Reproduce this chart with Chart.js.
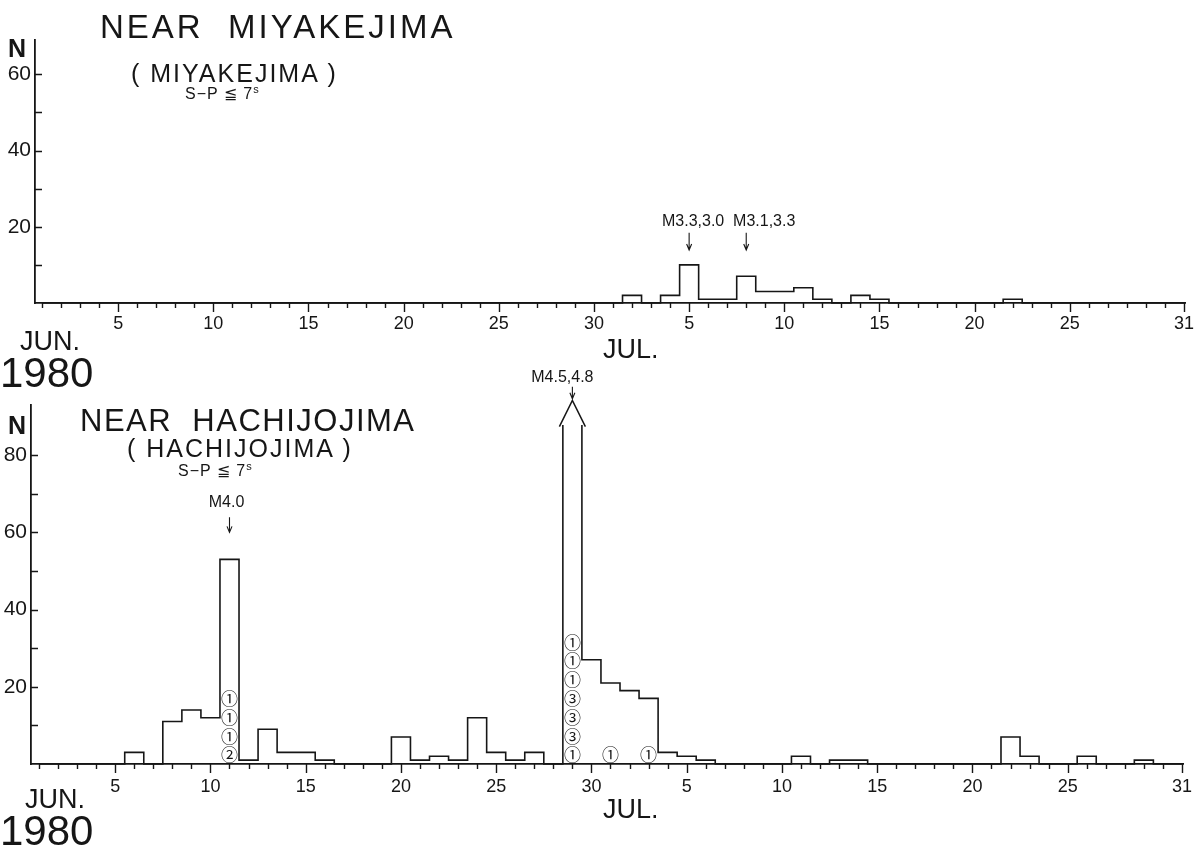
<!DOCTYPE html>
<html>
<head>
<meta charset="utf-8">
<title>Near Miyakejima / Near Hachijojima, June - July 1980</title>
<script src="https://cdn.jsdelivr.net/npm/chart.js@4.4.1/dist/chart.umd.min.js"></script>
<style>
  body { margin: 0; background: #fff; }
  #page { position: relative; width: 1204px; height: 850px; overflow: hidden; background: #fff;
          font-family: "Liberation Sans", Arial, Helvetica, sans-serif; color: #161616; }
  canvas { position: absolute; left: 0; }
  .txt { position: absolute; white-space: nowrap; line-height: 1; z-index: 2; }
  .title { font-size: 33px; letter-spacing: 3px; }
  .sub { font-size: 25px; letter-spacing: 2px; }
  .sp { font-size: 16px; letter-spacing: 1px; }
  .sp sup { font-size: 11px; vertical-align: 6px; }
  .n { font-size: 25px; font-weight: bold; }
  .mon { font-size: 27px; }
  .year { font-size: 42px; }
</style>
</head>
<body>
<div id="page">
  <canvas id="topChart" width="1204" height="425" style="top:0;width:1204px;height:425px"></canvas>
  <canvas id="bottomChart" width="1204" height="490" style="top:360px;width:1204px;height:490px"></canvas>

  <div class="txt n" style="left:8px;top:36px">N</div>
  <div class="txt title" style="left:100px;top:10px">NEAR&nbsp; MIYAKEJIMA</div>
  <div class="txt sub" style="left:131px;top:61px">( MIYAKEJIMA )</div>
  <div class="txt sp" style="left:185px;top:84px">S−P ≦ 7<sup>s</sup></div>
  <div class="txt mon" style="left:20px;top:328px">JUN.</div>
  <div class="txt year" style="left:0;top:352px">1980</div>
  <div class="txt mon" style="left:603px;top:336px">JUL.</div>

  <div class="txt n" style="left:8px;top:413px">N</div>
  <div class="txt title" style="left:80px;top:405px;font-size:31px;letter-spacing:1.5px">NEAR&nbsp; HACHIJOJIMA</div>
  <div class="txt sub" style="left:127px;top:436px">( HACHIJOJIMA )</div>
  <div class="txt sp" style="left:178px;top:461px">S−P ≦ 7<sup>s</sup></div>
  <div class="txt mon" style="left:25px;top:786px">JUN.</div>
  <div class="txt year" style="left:0;top:810px">1980</div>
  <div class="txt mon" style="left:603px;top:796px">JUL.</div>
</div>

<script>
var ink = '#161616';

// day 1 = Jun 1 ... day 30 = Jun 30, day 31 = Jul 1 ... day 61 = Jul 31
var days = [];
for (var d = 1; d <= 61; d++) days.push(d);
var majorDays = [5, 10, 15, 20, 25, 30, 35, 40, 45, 50, 55, 61];
var majorLabels = ['5', '10', '15', '20', '25', '30', '5', '10', '15', '20', '25', '31'];

// daily number of earthquakes, Miyakejima station
var miyakejima = [
  0, 0, 0, 0, 0, 0, 0, 0, 0, 0,      // Jun 1-10
  0, 0, 0, 0, 0, 0, 0, 0, 0, 0,      // Jun 11-20
  0, 0, 0, 0, 0, 0, 0, 0, 0, 0,      // Jun 21-30
  0, 2, 0, 2, 10, 1, 1, 7, 3, 3,     // Jul 1-10
  4, 1, 0, 2, 1, 0, 0, 0, 0, 0,      // Jul 11-20
  0, 1, 0, 0, 0, 0, 0, 0, 0, 0, 0    // Jul 21-31
];

// daily number of earthquakes, Hachijojima station (Jun 29 is off scale)
var hachijojima = [
  0, 0, 0, 0, 0, 3, 0, 11, 14, 12,   // Jun 1-10
  53, 1, 9, 3, 3, 1, 0, 0, 0, 7,     // Jun 11-20
  1, 2, 1, 12, 3, 1, 3, 0, 100, 27,  // Jun 21-30
  21, 19, 17, 3, 2, 1, 0, 0, 0, 0,   // Jul 1-10
  2, 0, 1, 1, 0, 0, 0, 0, 0, 0,      // Jul 11-20
  0, 7, 2, 0, 0, 2, 0, 0, 1, 0, 0    // Jul 21-31
];

var topYTicks = [20, 40, 60];
var topYMinor = [10, 20, 30, 40, 50, 60];
var bottomYTicks = [20, 40, 60, 80];
var bottomYMinor = [10, 20, 30, 40, 50, 60, 70, 80];

// tick marks: inward on the N axis, downward on the day axis
var axisMarks = {
  id: 'axisMarks',
  afterDraw: function(chart, args, opts) {
    var ctx = chart.ctx, xs = chart.scales.x, ys = chart.scales.y;
    ctx.save();
    ctx.strokeStyle = ink;
    ctx.lineWidth = 1.4;
    ctx.beginPath();
    days.forEach(function(d) {
      var px = Math.round(xs.getPixelForValue(d)) + 0.5;
      var len = majorDays.indexOf(d) >= 0 ? 9 : 5;
      ctx.moveTo(px, ys.bottom);
      ctx.lineTo(px, ys.bottom + len);
    });
    opts.yMinor.forEach(function(v) {
      var py = Math.round(ys.getPixelForValue(v)) + 0.5;
      ctx.moveTo(xs.left, py);
      ctx.lineTo(xs.left + 7, py);
    });
    ctx.stroke();
    ctx.restore();
  }
};

// magnitude notes, circled numbers and the off-scale arrow
var notes = {
  id: 'notes',
  afterDatasetsDraw: function(chart, args, opts) {
    var ctx = chart.ctx, xs = chart.scales.x, ys = chart.scales.y;
    var base = ys.getPixelForValue(0);
    ctx.save();
    ctx.fillStyle = ink;
    ctx.strokeStyle = ink;
    ctx.lineWidth = 1.1;
    ctx.textAlign = 'center';
    ctx.textBaseline = 'middle';

    ctx.font = '16px "Liberation Sans", Arial, sans-serif';
    (opts.quakes || []).forEach(function(q) {
      var x = xs.getPixelForValue(q.day);
      ctx.fillText(q.text, x + q.dx, ys.getPixelForValue(q.textAt));
      var y0 = ys.getPixelForValue(q.from), y1 = ys.getPixelForValue(q.to);
      ctx.beginPath();
      ctx.moveTo(x, y0);
      ctx.lineTo(x, y1);
      ctx.moveTo(x - 2.5, y1 - 6);
      ctx.lineTo(x, y1);
      ctx.lineTo(x + 2.5, y1 - 6);
      ctx.stroke();
    });

    ctx.font = '17px "Noto Sans CJK JP", "DejaVu Sans", sans-serif';
    (opts.circles || []).forEach(function(c) {
      var x = xs.getPixelForValue(c.day);
      c.marks.forEach(function(m, i) {
        var k = c.marks.length - 1 - i;
        ctx.fillText(m, x, base - 9 - k * 18.8);
      });
    });

    if (opts.arrow) {
      var ax = xs.getPixelForValue(opts.arrow.day);
      var apex = ys.getPixelForValue(opts.arrow.apex);
      var wing = ys.getPixelForValue(opts.arrow.wing);
      ctx.lineWidth = 1.5;
      ctx.beginPath();
      ctx.moveTo(ax - 13, wing);
      ctx.lineTo(ax, apex);
      ctx.lineTo(ax + 13, wing);
      ctx.stroke();
    }
    ctx.restore();
  }
};

function makeChart(id, values, cfg) {
  var points = days.map(function(d, i) { return { x: d, y: values[i] }; });
  return new Chart(document.getElementById(id), {
    type: 'line',
    data: {
      datasets: [{
        data: points,
        stepped: 'middle',
        borderColor: ink,
        borderWidth: 1.6,
        pointRadius: 0,
        fill: false,
        clip: { left: 5, top: cfg.clipTop, right: 5, bottom: 5 }
      }]
    },
    options: {
      responsive: false,
      animation: false,
      events: [],
      layout: { padding: { top: cfg.padTop, right: cfg.padRight, left: 0, bottom: 0 } },
      plugins: {
        legend: { display: false },
        tooltip: { enabled: false },
        axisMarks: { yMinor: cfg.yMinor },
        notes: cfg.notes
      },
      scales: {
        x: {
          type: 'linear',
          min: cfg.xMin,
          max: 61.1,
          afterBuildTicks: function(scale) {
            scale.ticks = majorDays.map(function(v) { return { value: v }; });
          },
          afterFit: function(scale) { scale.height = cfg.xHeight; },
          ticks: {
            autoSkip: false,
            maxRotation: 0,
            padding: cfg.xPad,
            color: ink,
            font: { family: '"Liberation Sans", Arial, sans-serif', size: 18 },
            callback: function(v) { return majorLabels[majorDays.indexOf(v)]; }
          },
          grid: { display: false, drawTicks: false },
          border: { display: true, color: ink, width: 1.8 }
        },
        y: {
          min: 0,
          max: cfg.yMax,
          afterBuildTicks: function(scale) {
            scale.ticks = cfg.yTicks.map(function(v) { return { value: v }; });
          },
          afterFit: function(scale) { scale.width = cfg.yWidth; },
          ticks: {
            padding: 4,
            color: ink,
            font: { family: '"Liberation Sans", Arial, sans-serif', size: 21 }
          },
          grid: { display: false, drawTicks: false },
          border: { display: true, color: ink, width: 1.8 }
        }
      }
    },
    plugins: [axisMarks, notes]
  });
}

makeChart('topChart', miyakejima, {
  padTop: 40, padRight: 16, xHeight: 122, yWidth: 35, xMin: 0.63, yMax: 69, clipTop: 0, xPad: 10,
  yTicks: topYTicks, yMinor: topYMinor,
  notes: {
    quakes: [
      { day: 35, text: 'M3.3,3.0', dx: 4, textAt: 21.3, from: 18.4, to: 13.9 },
      { day: 38, text: 'M3.1,3.3', dx: 18, textAt: 21.3, from: 18.4, to: 13.9 }
    ]
  }
});

makeChart('bottomChart', hachijojima, {
  padTop: 45, padRight: 19, xHeight: 86, yWidth: 31, xMin: 0.58, yMax: 93, clipTop: -20, xPad: 12,
  yTicks: bottomYTicks, yMinor: bottomYMinor,
  notes: {
    quakes: [
      { day: 11, text: 'M4.0', dx: -3, textAt: 67.8, from: 63.9, to: 60 },
      { day: 29, text: 'M4.5,4.8', dx: -10, textAt: 100, from: 97.7, to: 94.6 }
    ],
    circles: [
      { day: 11, marks: ['①', '①', '①', '②'] },
      { day: 29, marks: ['①', '①', '①', '③', '③', '③', '①'] },
      { day: 31, marks: ['①'] },
      { day: 33, marks: ['①'] }
    ],
    arrow: { day: 29, apex: 94.2, wing: 87.4 }
  }
});
</script>
</body>
</html>
